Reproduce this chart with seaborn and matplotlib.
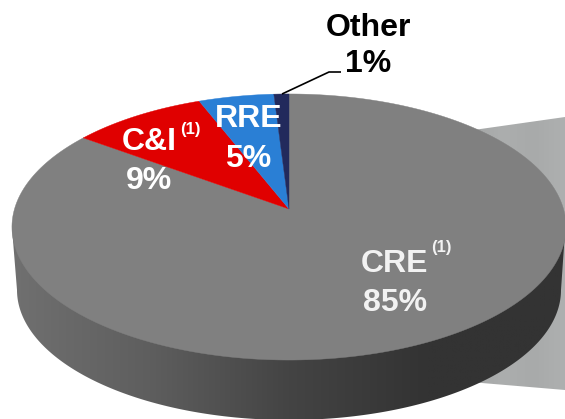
import numpy as np
import matplotlib
matplotlib.use("Agg")
import matplotlib.pyplot as plt
from matplotlib.patches import Polygon
import seaborn as sns

# Data
categories = ["Other", "RRE", "C&I", "CRE"]
values = [1, 5, 9, 85]
slice_colors = ["#222a5c", "#2a7fd5", "#e00000", "#808080"]

sns.set_theme(style="white")
plt.rcParams["font.family"] = ["Liberation Sans", "DejaVu Sans"]

W, H = 565, 419
fig = plt.figure(figsize=(W / 100, H / 100), dpi=100)
ax = fig.add_axes([0, 0, 1, 1])

# the library lays out the slices; a perspective tilt then maps them to pixels
wedges, _ = ax.pie(values, colors=slice_colors, startangle=90, counterclock=True, radius=1)
CX, CY, AX, BY, K = 289.0, 209.0, 274.5, 130.6, 0.1353


def tilt(x, y):
    w = 1 + K * y
    return CX + AX * x / w, CY - BY * y / w


polys = []
for wd in wedges:
    t = np.radians(np.linspace(wd.theta1, wd.theta2, 240))
    px, py = tilt(np.cos(t), np.sin(t))
    polys.append((np.r_[CX, px], np.r_[CY, py], wd.get_facecolor()))
    wd.remove()

ax.set_xlim(0, W)
ax.set_ylim(H, 0)
ax.set_aspect("auto")
ax.axis("off")

# light back panel
back_pal = sns.blend_palette(["#a4a6a6", "#acaeae", "#a8aaaa", "#aeb0b0"], 64, as_cmap=True)
im = ax.imshow(np.linspace(0, 1, 256)[None, :], extent=(470, W, H, 0), cmap=back_pal,
               aspect="auto", zorder=1)
back = Polygon([(470, 130.5), (W, 117), (W, 390), (470, 382)], closed=True,
               transform=ax.transData, facecolor="none", edgecolor="none")
ax.add_patch(back)
im.set_clip_path(back)

# side wall
side_pal = sns.blend_palette(["#707070", "#5e5e5e", "#444444", "#333333", "#333333"], 256, as_cmap=True)
im2 = ax.imshow(np.linspace(0, 1, 256)[None, :], extent=(12, 565, H + 20, 200), cmap=side_pal,
                aspect="auto", zorder=2)
tt = np.linspace(np.pi, 2 * np.pi, 200)
bx = 289 + 272 * np.cos(tt)
by = 290 - 130 * np.sin(tt)
side = Polygon(np.r_[[(12, 228)], np.c_[bx, by], [(565, 232)]], closed=True,
               transform=ax.transData, facecolor="none", edgecolor="none")
ax.add_patch(side)
im2.set_clip_path(side)

# top surface
for px, py, col in polys[::-1]:
    ax.add_patch(Polygon(np.c_[px, py], closed=True, facecolor=col, edgecolor=col, lw=0.3, zorder=3))

ax.set_xlim(0, W)
ax.set_ylim(H, 0)

# leader line for the smallest slice
ax.plot([282, 329, 341], [94, 72, 72], color="black", lw=1.2, zorder=4, solid_capstyle="butt")

txt = dict(ha="center", va="center", fontweight="bold", zorder=5)
fs = 23
fs2 = 12
ax.text(368, 28, categories[0], color="black", fontsize=fs, **txt)
ax.text(368, 64, f"{values[0]}%", color="black", fontsize=fs, **txt)
ax.text(248.5, 119, categories[1], color="white", fontsize=fs, **txt)
ax.text(248.5, 159, f"{values[1]}%", color="white", fontsize=fs, **txt)
ax.text(149, 142, categories[2], color="white", fontsize=fs, **txt)
ax.text(190, 129, "(1)", color="white", fontsize=fs2, **txt)
ax.text(149, 181, f"{values[2]}%", color="white", fontsize=fs, **txt)
ax.text(394, 264, categories[3], color="#f2f2f2", fontsize=fs, **txt)
ax.text(441, 247, "(1)", color="#f2f2f2", fontsize=fs2, **txt)
ax.text(395, 303, f"{values[3]}%", color="#f2f2f2", fontsize=fs, **txt)

fig.savefig("out.png", dpi=100, facecolor="white")
